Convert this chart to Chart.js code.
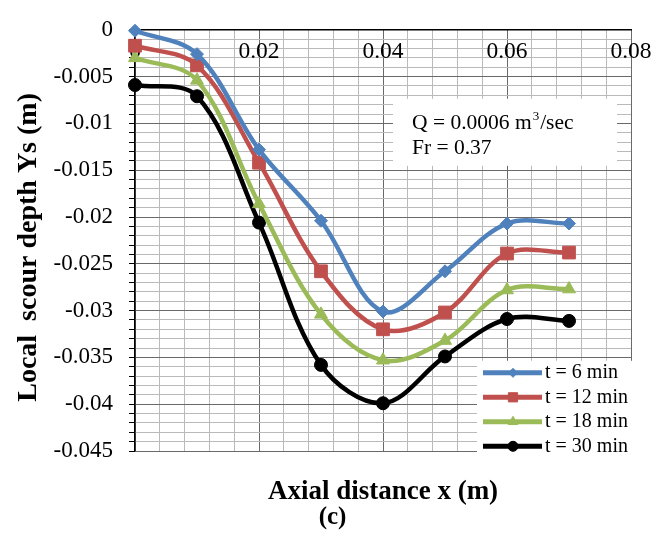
<!DOCTYPE html>
<html>
<head>
<meta charset="utf-8">
<script src="https://cdn.jsdelivr.net/npm/chart.js@4.4.0/dist/chart.umd.min.js"></script>
<style>
  body { margin: 0; background: #fff; }
  canvas { display: block; }
</style>
</head>
<body>
<canvas id="scour" width="665" height="533"></canvas>
<script>
// axial distance from the pier (m)
const distances = [0, 0.01, 0.02, 0.03, 0.04, 0.05, 0.06, 0.07];

// local scour depth Ys (m) after each run time
const depth6  = [-0.0001, -0.0026, -0.0128, -0.0204, -0.0301, -0.0258, -0.0207, -0.0207];
const depth12 = [-0.0017, -0.0038, -0.0142, -0.0258, -0.0320, -0.0302, -0.0239, -0.0238];
const depth18 = [-0.0030, -0.0054, -0.0186, -0.0304, -0.0353, -0.0332, -0.0278, -0.0277];
const depth30 = [-0.0059, -0.0071, -0.0206, -0.0358, -0.0399, -0.0349, -0.0309, -0.0311];

const seriesLabels = ['t = 6 min', 't = 12 min', 't = 18 min', 't = 30 min'];

// labelled ticks; the grid in between is finer
const xTickLabels = [0, 0.02, 0.04, 0.06, 0.08];
const yTickLabels = [0, -0.005, -0.01, -0.015, -0.02, -0.025, -0.03, -0.035, -0.04, -0.045];

const SERIF = '"Liberation Serif", "Times New Roman", serif';
const MAJOR_GRID = '#6a6a6a';
const MINOR_GRID = '#bababa';

const styles = [
  { color: '#4f81bd', pointStyle: 'rectRot',  radius: 6.5, legendRadius: 4.5 },
  { color: '#c0504d', pointStyle: 'rect',     radius: 9,   legendRadius: 6.5 },
  { color: '#9bbb59', pointStyle: 'triangle', radius: 7.5, legendRadius: 5.5 },
  { color: '#000000', pointStyle: 'circle',   radius: 6.5, legendRadius: 5 }
];

const isLabelled = (list, v) => list.some(t => Math.abs(t - v) < 1e-9);
const fmt = v => String(Math.round(v * 1000) / 1000);

const datasets = [depth6, depth12, depth18, depth30].map((vals, i) => ({
  label: seriesLabels[i],
  data: distances.map((x, k) => ({ x, y: vals[k] })),
  borderColor: styles[i].color,
  backgroundColor: styles[i].color,
  borderWidth: 4.5,
  tension: 0.35,
  pointStyle: styles[i].pointStyle,
  pointRadius: styles[i].radius,
  pointBorderWidth: 1,
  pointBackgroundColor: styles[i].color,
  pointBorderColor: styles[i].color,
  clip: false
}));

// Q / Fr note box in the upper right of the plot
const flowNote = {
  id: 'flowNote',
  beforeDatasetsDraw(chart) {
    const { ctx, chartArea } = chart;
    const x0 = chartArea.left + 258, y0 = chartArea.top + 69;
    ctx.save();
    ctx.fillStyle = '#fff';
    ctx.fillRect(x0, y0, 224, 67);
    ctx.fillStyle = '#000';
    ctx.textBaseline = 'middle';
    const tx = x0 + 19;
    ctx.font = '21.5px ' + SERIF;
    const head = 'Q = 0.0006 m';
    ctx.fillText(head, tx, y0 + 25);
    const w = ctx.measureText(head).width;
    ctx.font = '13px ' + SERIF;
    ctx.fillText('3', tx + w + 1, y0 + 18);
    const w3 = ctx.measureText('3').width;
    ctx.font = '21.5px ' + SERIF;
    ctx.fillText('/sec', tx + w + w3 + 2, y0 + 25);
    ctx.fillText('Fr = 0.37', tx, y0 + 50);
    ctx.restore();
  }
};

// legend box sitting in the lower right corner of the plot
const cornerLegend = {
  id: 'cornerLegend',
  afterDatasetsDraw(chart) {
    const { ctx, chartArea } = chart;
    const left = chartArea.right - 154, top = chartArea.top + 331;
    ctx.save();
    ctx.fillStyle = '#fff';
    ctx.fillRect(left, top, 158, 97);
    chart.data.datasets.forEach((ds, i) => {
      const y = top + 12 + i * 24.5;
      const st = styles[i];
      ctx.strokeStyle = st.color;
      ctx.fillStyle = st.color;
      ctx.lineWidth = 5;
      ctx.beginPath();
      ctx.moveTo(left + 6, y);
      ctx.lineTo(left + 65, y);
      ctx.stroke();
      ctx.lineWidth = 1;
      Chart.helpers.drawPoint(ctx, {
        pointStyle: st.pointStyle, radius: st.legendRadius, rotation: 0, borderWidth: 1
      }, left + 36, y);
      ctx.fillStyle = '#000';
      ctx.font = '20px ' + SERIF;
      ctx.textBaseline = 'middle';
      ctx.fillText(ds.label, left + 68, y);
    });
    ctx.restore();
  }
};

new Chart(document.getElementById('scour'), {
  type: 'line',
  data: { datasets },
  options: {
    responsive: false,
    animation: false,
    layout: { padding: { top: 16, right: 0, bottom: 2.5, left: 0 } },
    scales: {
      x: {
        type: 'linear',
        position: { y: 0 },
        min: 0,
        max: 0.08,
        border: { color: '#000', width: 1.5 },
        grid: {
          drawTicks: false,
          color: c => isLabelled(xTickLabels, c.tick.value) ? MAJOR_GRID : MINOR_GRID
        },
        ticks: {
          stepSize: 0.004,
          autoSkip: false,
          maxRotation: 0,
          padding: 8,
          color: '#000',
          font: { family: SERIF, size: 23.5 },
          callback: v => isLabelled(xTickLabels, v) ? fmt(v) : ''
        }
      },
      y: {
        type: 'linear',
        position: 'left',
        min: -0.045,
        max: 0,
        afterFit: s => { s.width = 135; },
        border: { color: '#000', width: 1.5 },
        grid: {
          tickLength: 6,
          tickColor: '#000',
          color: c => {
            if (Math.abs(c.tick.value) < 1e-9) return '#000';
            return isLabelled(yTickLabels, c.tick.value) ? MAJOR_GRID : MINOR_GRID;
          }
        },
        ticks: {
          stepSize: 0.001,
          autoSkip: false,
          padding: 16,
          color: '#000',
          font: { family: SERIF, size: 23 },
          callback: v => isLabelled(yTickLabels, v) ? fmt(v) : ''
        },
        title: {
          display: true,
          text: 'Local  scour depth Ys (m)  ',
          color: '#000',
          padding: { top: 15, bottom: 0 },
          font: { family: SERIF, size: 28, weight: 'bold', lineHeight: 1 }
        }
      },
      // empty strip that keeps the right margin
      yRight: {
        type: 'linear',
        position: 'right',
        display: true,
        afterFit: s => { s.width = 34; },
        border: { display: false },
        grid: { display: false },
        ticks: { display: false }
      }
    },
    plugins: {
      legend: { display: false },
      tooltip: { enabled: false },
      subtitle: {
        display: true,
        position: 'bottom',
        fullSize: false,
        text: 'Axial distance x (m)',
        color: '#000',
        padding: { top: 27.5, bottom: 0 },
        font: { family: SERIF, size: 27, weight: 'bold', lineHeight: 1 }
      },
      title: {
        display: true,
        position: 'bottom',
        text: '(c)',
        color: '#000',
        padding: { top: 0, bottom: 0 },
        font: { family: SERIF, size: 25, weight: 'bold', lineHeight: 1 }
      }
    }
  },
  plugins: [flowNote, cornerLegend]
});
</script>
</body>
</html>
